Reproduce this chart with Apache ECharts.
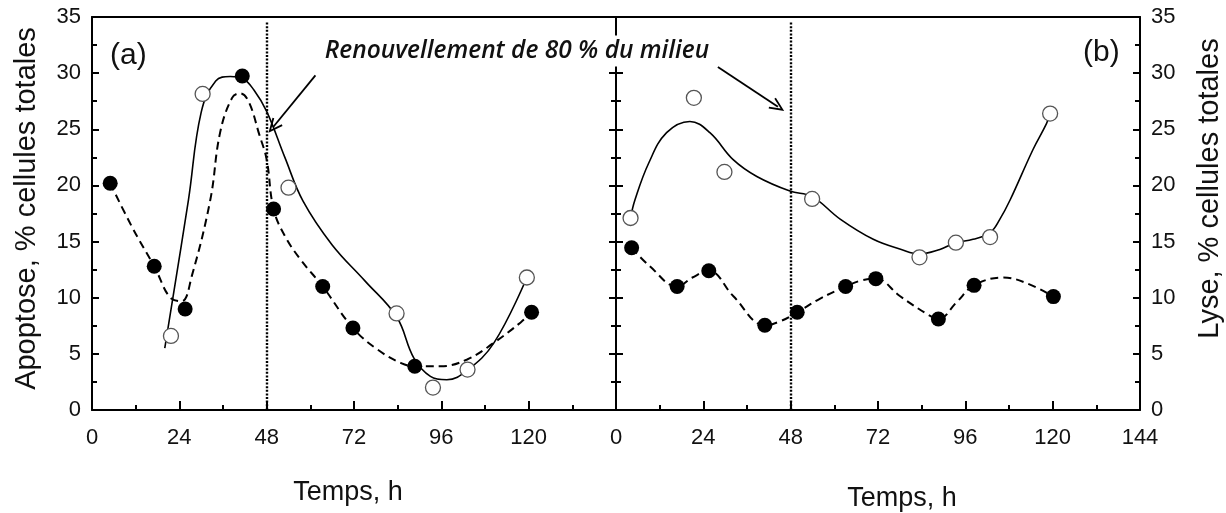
<!DOCTYPE html>
<html>
<head>
<meta charset="utf-8">
<title>Apoptose et lyse</title>
<script src="https://cdn.jsdelivr.net/npm/echarts@6/dist/echarts.min.js"></script>
<style>
  html, body { margin: 0; padding: 0; background: #fff; }
  #chart { width: 1226px; height: 513px; }
</style>
</head>
<body>
<div id="chart"></div>
<script>
// Time axis ticks (h) and percentage axis ticks
const timeTicks = [0, 24, 48, 72, 96, 120, 144];
const pctTicks = [0, 5, 10, 15, 20, 25, 30, 35];
const renewalTime = 48;

// (a) Apoptose — filled points (culture 1)
const aFilledTime = [5, 17.1, 25.6, 41.3, 49.9, 63.4, 71.7, 88.7, 120.8];
const aFilledPct  = [20.2, 12.8, 9.0, 29.75, 17.9, 11.0, 7.3, 3.9, 8.7];
// (a) Apoptose — open points (culture 2)
const aOpenTime = [21.7, 30.4, 54, 83.7, 93.7, 103.2, 119.5];
const aOpenPct  = [6.6, 28.15, 19.8, 8.6, 2.0, 3.6, 11.8];

// (a) trend curves
const aDashTime = [5, 11, 17.1, 21.9, 24.7, 27.4, 32.5, 35.2, 38.5, 40.7, 43, 46, 48, 49.9, 53, 57.3, 63.4, 71.7, 78.4, 84.8, 88.7, 95.8, 103.1, 110.5, 117.8, 120.8];
const aDashPct  = [20.2, 16.3, 12.8, 9.9, 9.7, 11.9, 18.7, 24.7, 27.8, 28.2, 27.5, 24.5, 22.3, 17.9, 15.5, 13.4, 11.0, 7.3, 5.4, 4.2, 3.9, 3.9, 4.5, 6.0, 7.8, 8.7];
const aSolidTime = [20, 26.5, 30, 34, 38, 41.5, 44.5, 48, 53, 58, 66, 75, 83.7, 88.5, 93, 97.5, 103, 110.5, 119.5];
const aSolidPct  = [5.5, 18.7, 26.5, 29.3, 29.7, 29.5, 28.5, 26.6, 22.5, 18.6, 14.7, 11.5, 8.3, 4.6, 3.0, 2.7, 3.5, 6.0, 11.8];

// (b) Lyse — filled points
const bFilledTime = [4.3, 16.8, 25.5, 40.9, 49.8, 63.1, 71.4, 88.6, 98.4, 120.2];
const bFilledPct  = [14.45, 11.0, 12.4, 7.55, 8.7, 11.0, 11.7, 8.1, 11.1, 10.1];
// (b) Lyse — open points
const bOpenTime = [4, 21.4, 29.8, 53.9, 83.4, 93.4, 102.8, 119.3];
const bOpenPct  = [17.1, 27.8, 21.2, 18.8, 13.6, 14.9, 15.4, 26.4];

// (b) trend curves
const bDashTime = [4.3, 9.3, 16.8, 21, 25.5, 32.2, 40.9, 45.1, 49.8, 56, 63.1, 67, 71.4, 78, 86.2, 88.6, 93.6, 98.4, 106.4, 112.8, 120.2];
const bDashPct  = [14.45, 12.8, 11.0, 11.8, 12.4, 10.15, 7.55, 7.9, 8.7, 9.9, 11.0, 11.5, 11.7, 10.15, 8.4, 8.1, 9.6, 11.1, 11.8, 11.3, 10.1];
const bSolidTime = [4, 5.2, 9, 13.9, 20.3, 25.8, 32.2, 38.7, 47.8, 53.9, 61.6, 70.7, 78.4, 83.3, 89, 93.4, 98.1, 102.8, 105.5, 108.3, 114.6, 118.3, 119.3];
const bSolidPct  = [17.1, 18.7, 22, 24.7, 25.7, 24.7, 22.3, 20.8, 19.5, 19.0, 17.0, 15.2, 14.3, 13.9, 14.3, 14.9, 15.2, 15.8, 17.0, 18.7, 23.2, 25.5, 26.4];

// Annotation arrows: [tail, head] in (time, %) coordinates
const arrowA = [[61.4, 29.8], [49.8, 25.2]];
const arrowB = [[28, 30.55], [44.5, 27.0]];

const FONT = '"Liberation Sans", Arial, sans-serif';
const INK = '#111';
const zip = (xs, ys) => xs.map((x, i) => [x, ys[i]]);

// open chevron head (tip at the top of the symbol box)
const CHEVRON = 'path://M5,0 L10,12 L8.7,12.6 L5,3.6 L1.3,12.6 L0,12 Z';

function xBottom(gi, hideLast, nameGap, namePad) {
  return {
    type: 'value', gridIndex: gi, position: 'bottom',
    min: timeTicks[0], max: timeTicks[timeTicks.length - 1], interval: 24,
    axisLine: { show: true, onZero: false, lineStyle: { color: '#000', width: 2 } },
    axisTick: { show: true, inside: true, length: 9, lineStyle: { color: '#000', width: 2 } },
    minorTick: { show: true, splitNumber: 2, length: 5, lineStyle: { color: '#000', width: 2 } },
    splitLine: { show: false },
    axisLabel: {
      fontSize: 22, fontFamily: FONT, color: INK, margin: 17,
      formatter: v => (hideLast && v === 144) ? '' : String(v)
    },
    name: 'Temps, h', nameLocation: 'middle', nameGap: nameGap,
    nameTextStyle: { fontSize: 27, fontFamily: FONT, color: INK, padding: namePad }
  };
}
function xTop(gi) {
  return {
    type: 'value', gridIndex: gi, position: 'top', min: 0, max: 144,
    axisLine: { show: true, onZero: false, lineStyle: { color: '#000', width: 2 } },
    axisTick: { show: false }, axisLabel: { show: false }, splitLine: { show: false }
  };
}
function yAxis(gi, pos, labels, name, nameGap, namePad) {
  return {
    type: 'value', gridIndex: gi, position: pos,
    min: pctTicks[0], max: pctTicks[pctTicks.length - 1], interval: 5,
    axisLine: { show: true, onZero: false, lineStyle: { color: '#000', width: 2 } },
    axisTick: { show: true, inside: true, length: 7, lineStyle: { color: '#000', width: 2 } },
    minorTick: { show: true, splitNumber: 2, length: 5, lineStyle: { color: '#000', width: 2 } },
    splitLine: { show: false },
    axisLabel: { show: labels, fontSize: 22, fontFamily: FONT, color: INK, margin: 11 },
    name: name || '', nameLocation: 'middle', nameRotate: 90, nameGap: nameGap || 0,
    nameTextStyle: { fontSize: 29, fontFamily: FONT, color: INK, padding: namePad || 0 }
  };
}

function curve(xi, yi, data, dashed) {
  return {
    type: 'line', xAxisIndex: xi, yAxisIndex: yi, data: data,
    smooth: 0.4, showSymbol: false, symbol: 'none', z: 2,
    lineStyle: { color: '#000', width: dashed ? 2 : 1.6, type: dashed ? [8, 5] : 'solid' }
  };
}
function dots(xi, yi, data, filled) {
  return {
    type: 'scatter', xAxisIndex: xi, yAxisIndex: yi, data: data,
    symbol: 'circle', symbolSize: 15, z: 5,
    itemStyle: filled
      ? { color: '#000', borderColor: '#000', borderWidth: 0, opacity: 1 }
      : { color: '#fff', borderColor: '#555', borderWidth: 1.3, opacity: 1 }
  };
}
function guideLines(xi, yi, arrow) {
  const data = [[{ coord: [renewalTime, 34.5] }, { coord: [renewalTime, 0] }]];
  return {
    type: 'line', xAxisIndex: xi, yAxisIndex: yi, data: [], z: 3,
    markLine: {
      silent: true, animation: false, label: { show: false }, symbol: ['none', 'none'],
      lineStyle: { color: '#000', width: 2.4, type: [2, 1.6] },
      data: data.concat([[
        { coord: arrow[0], symbol: 'none', lineStyle: { type: 'solid', width: 1.8 } },
        { coord: arrow[1], symbol: CHEVRON, symbolSize: [13, 15] }
      ]])
    }
  };
}

const chart = echarts.init(document.getElementById('chart'), null, { renderer: 'canvas' });
chart.setOption({
  animation: false,
  backgroundColor: '#fff',
  grid: [
    { left: 92, top: 17, width: 524, height: 393, containLabel: false, outerBoundsMode: 'none' },
    { left: 616, top: 17, width: 524, height: 393, containLabel: false, outerBoundsMode: 'none' }
  ],
  xAxis: [
    xBottom(0, true, 69, [0, 12, 0, 0]),
    xBottom(1, false, 75, [0, 0, 0, 48]),
    xTop(0),
    xTop(1)
  ],
  yAxis: [
    yAxis(0, 'left', true, 'Apoptose, % cellules totales', 51, [0, 0, 0, 10]),
    yAxis(0, 'right', false),
    yAxis(1, 'left', false),
    yAxis(1, 'right', true, 'Lyse, % cellules totales', 55, [0, 0, 0, 50])
  ],
  graphic: [
    { type: 'text', left: 110, top: 41, style: { text: '(a)', font: '30px ' + FONT, fill: INK } },
    { type: 'text', left: 1083, top: 38, style: { text: '(b)', font: '30px ' + FONT, fill: INK } },
    {
      type: 'text', x: 517, y: 51, z: 100,
      style: {
        text: 'Renouvellement de 80 % du milieu',
        font: 'italic 600 24.5px "Open Sans", "Noto Sans", sans-serif',
        fill: INK, align: 'center', verticalAlign: 'middle',
        backgroundColor: '#fff', padding: [3, 0, 3, 0]
      }
    }
  ],
  series: [
    curve(0, 0, zip(aDashTime, aDashPct), true),
    curve(0, 0, zip(aSolidTime, aSolidPct), false),
    curve(1, 3, zip(bDashTime, bDashPct), true),
    curve(1, 3, zip(bSolidTime, bSolidPct), false),
    guideLines(0, 0, arrowA),
    guideLines(1, 3, arrowB),
    dots(0, 0, zip(aFilledTime, aFilledPct), true),
    dots(0, 0, zip(aOpenTime, aOpenPct), false),
    dots(1, 3, zip(bFilledTime, bFilledPct), true),
    dots(1, 3, zip(bOpenTime, bOpenPct), false)
  ]
});
</script>
</body>
</html>
